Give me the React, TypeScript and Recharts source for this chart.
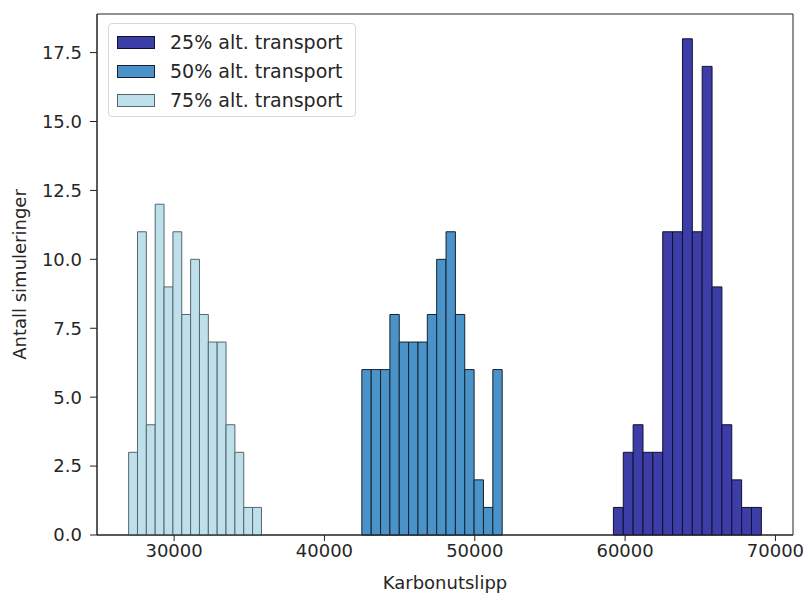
import React from 'react';
import { ComposedChart, XAxis, YAxis, ReferenceArea } from 'recharts';

const FONT = '"DejaVu Sans", Verdana, sans-serif';
const FS = 18;

// Series labels (legend order)
const seriesLabels = ['25% alt. transport', '50% alt. transport', '75% alt. transport'];

// Histogram counts per bin (15 equal-width bins each) and bin ranges [first edge, last edge]
const counts25 = [1, 3, 4, 3, 3, 11, 11, 18, 11, 17, 9, 4, 2, 1, 1];
const range25 = [59222, 69063];
const counts50 = [6, 6, 6, 8, 7, 7, 7, 8, 10, 11, 8, 6, 2, 1, 6];
const range50 = [42487, 51822];
const counts75 = [3, 11, 4, 12, 9, 11, 8, 10, 8, 7, 7, 4, 3, 1, 1];
const range75 = [26975, 35810];

const xTicks = [30000, 40000, 50000, 60000, 70000];
const yTicks = [0, 2.5, 5, 7.5, 10, 12.5, 15, 17.5];

const fills = ['#3d3da7', '#4a93c8', '#bde0ea'];
const strokes = ['#101030', '#16222e', '#56666c'];

type Bin = { x1: number; x2: number; c: number };
function toBins(range: number[], counts: number[]): Bin[] {
  const w = (range[1] - range[0]) / counts.length;
  return counts.map((c, i) => ({ x1: range[0] + i * w, x2: range[0] + (i + 1) * w, c }));
}

const series = [
  toBins(range25, counts25),
  toBins(range50, counts50),
  toBins(range75, counts75),
];

const lo = Math.min(range25[0], range50[0], range75[0]);
const hi = Math.max(range25[1], range50[1], range75[1]);
const pad = (hi - lo) * 0.05;
const xDomain = [lo - pad, hi + pad];
const yMax = Math.max(...counts25, ...counts50, ...counts75) * 1.05;

const frameData = [{ x: xDomain[0] }, { x: xDomain[1] }];

const tickStyle = { fontFamily: FONT, fontSize: FS, fill: '#262626' };

export default function App() {
  return (
    <div style={{ position: 'absolute', width: 799, height: 589 }}>
      <ComposedChart
        width={799}
        height={589}
        data={frameData}
        margin={{ top: 6, right: 14, bottom: 0, left: 0 }}
      >
        <XAxis
          dataKey="x"
          type="number"
          domain={xDomain}
          ticks={xTicks}
          allowDataOverflow
          height={62}
          tickSize={6}
          tickMargin={3}
          tick={tickStyle}
          axisLine={{ stroke: '#222', strokeWidth: 1 }}
          tickLine={{ stroke: '#222' }}
          label={{ value: 'Karbonutslipp', position: 'insideBottom', offset: 8, style: { fontFamily: FONT, fontSize: FS, fill: '#262626' } }}
        />
        <YAxis
          type="number"
          domain={[0, yMax]}
          ticks={yTicks}
          allowDataOverflow
          width={89}
          tickSize={7}
          tickMargin={8}
          tick={tickStyle}
          tickFormatter={(v: number) => v.toFixed(1)}
          axisLine={{ stroke: '#222', strokeWidth: 1 }}
          tickLine={{ stroke: '#222' }}
          label={{ value: 'Antall simuleringer', angle: -90, position: 'insideLeft', offset: 12, style: { fontFamily: FONT, fontSize: FS, fill: '#262626', textAnchor: 'middle' } }}
        />
        <ReferenceArea
          x1={xDomain[0]}
          x2={xDomain[1]}
          y1={0}
          y2={yMax}
          fill="none"
          fillOpacity={0}
          stroke="#222"
          strokeWidth={1}
          ifOverflow="visible"
        />
        {series.map((bins, si) =>
          bins.map((b, i) => (
            <ReferenceArea
              key={`${si}-${i}`}
              x1={b.x1}
              x2={b.x2}
              y1={0}
              y2={b.c}
              fill={fills[si]}
              fillOpacity={1}
              stroke={strokes[si]}
              strokeWidth={1}
              ifOverflow="visible"
            />
          ))
        )}
      </ComposedChart>
      <div
        style={{
          position: 'absolute',
          left: 100,
          top: 15,
          width: 248,
          height: 94,
          boxSizing: 'border-box',
          border: '1px solid #d6d6d6',
          borderRadius: 4,
          background: 'rgba(255,255,255,0.8)',
          fontFamily: FONT,
          fontSize: 19,
          color: '#262626',
        }}
      >
        {seriesLabels.map((lab, i) => (
          <div key={lab} style={{ position: 'absolute', left: 0, top: 4 + i * 29, height: 28, display: 'flex', alignItems: 'center', whiteSpace: 'nowrap' }}>
            <div
              style={{
                marginLeft: 8,
                width: 38,
                height: 13,
                boxSizing: 'border-box',
                background: fills[i],
                border: `1px solid ${strokes[i]}`,
              }}
            />
            <span style={{ marginLeft: 15 }}>{lab}</span>
          </div>
        ))}
      </div>
    </div>
  );
}
